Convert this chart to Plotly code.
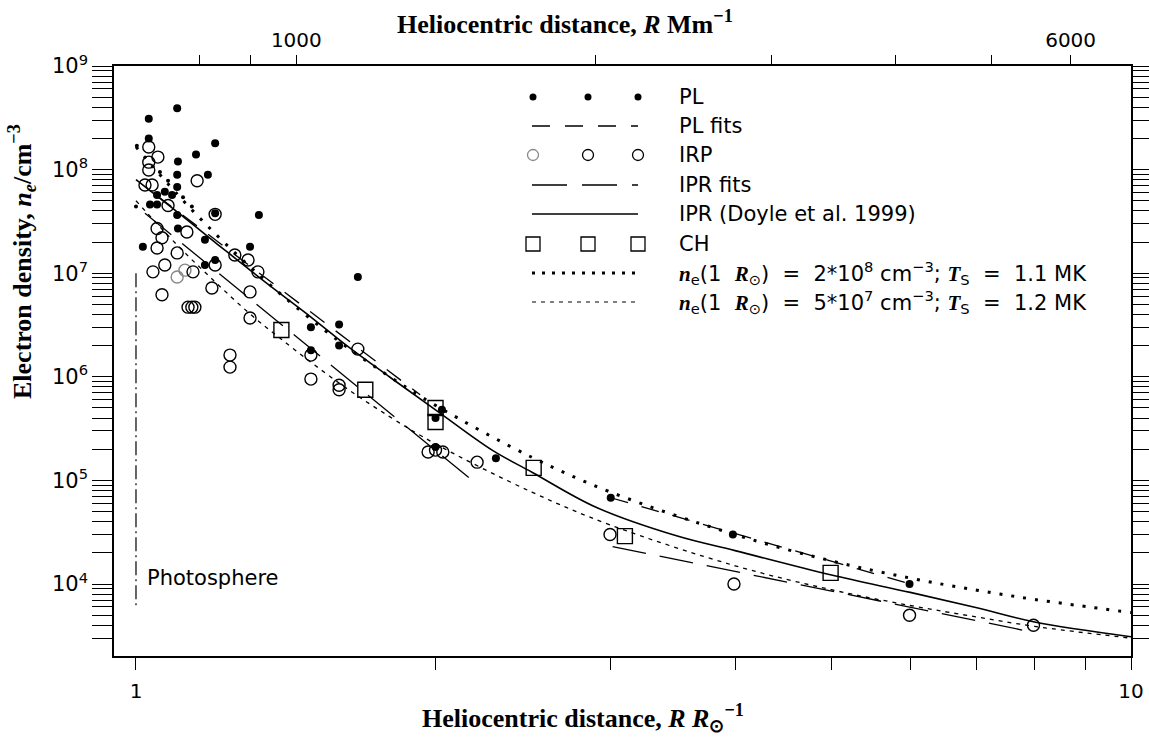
import plotly.graph_objects as go

RSUN_MM = 690.0

# ---------------- data ----------------
# PL : filled dots
pl_r = [1.100, 1.030, 1.030, 1.201, 1.149, 1.102, 1.181, 1.100, 1.100, 1.050, 1.069, 1.087,
        1.033, 1.050, 1.329, 1.016, 1.100, 1.102, 1.173, 1.201, 1.173, 1.302, 1.201, 1.671,
        1.499, 1.600, 1.600, 1.499, 2.00, 2.03, 2.00, 2.30, 3.00, 3.98, 5.99,
        1.002, 1.057, 1.077, 1.115, 1.138, 1.000]
pl_ne = [3.9e8, 3.1e8, 2.0e8, 1.8e8, 1.4e8, 1.2e8, 8.9e7, 8.9e7, 6.8e7, 5.7e7, 6.1e7, 5.7e7,
         4.6e7, 4.6e7, 3.65e7, 1.8e7, 3.65e7, 2.7e7, 2.1e7, 1.34e7, 1.2e7, 1.8e7, 3.8e7, 9.2e6,
         3.0e6, 3.2e6, 2.0e6, 1.8e6, 4.0e5, 4.8e5, 2.1e5, 1.64e5, 6.8e4, 3.0e4, 1.0e4,
         1.7e8, 9.5e7, 7.8e7, 5.4e7, 4.4e7, 4.4e7]
pl_small = [False] * 35 + [True] * 6

# IRP : open circles
irp_r = [1.030, 1.052, 1.030, 1.030, 1.021, 1.038, 1.152, 1.077, 1.201, 1.125, 1.050, 1.062,
         1.050, 1.100, 1.040, 1.069, 1.100, 1.120, 1.141, 1.201, 1.192, 1.062, 1.128, 1.138,
         1.146, 1.257, 1.296, 1.326, 1.302, 1.302, 1.243, 1.243, 1.671, 1.499, 1.499, 1.600,
         1.600, 1.966, 2.000, 2.034, 2.202, 2.995, 3.99, 5.99, 7.98]
irp_ne = [1.65e8, 1.32e8, 1.18e8, 9.9e7, 7.1e7, 7.1e7, 7.8e7, 4.5e7, 3.7e7, 2.5e7, 2.7e7, 2.2e7,
          1.75e7, 1.57e7, 1.03e7, 1.2e7, 9.2e6, 1.07e7, 1.03e7, 1.2e7, 7.2e6, 6.2e6, 4.7e6, 4.7e6,
          4.7e6, 1.5e7, 1.34e7, 1.03e7, 6.6e6, 3.7e6, 1.62e6, 1.24e6, 1.85e6, 1.62e6, 9.5e5, 8.3e5,
          7.5e5, 1.88e5, 1.96e5, 1.88e5, 1.5e5, 3.0e4, 1.0e4, 5.0e3, 4.0e3]
irp_grey = [16, 17]

# CH : open squares
ch_r = [1.40, 1.70, 2.00, 2.00, 2.51, 3.10, 4.99]
ch_ne = [2.83e6, 7.5e5, 5.0e5, 3.66e5, 1.32e5, 2.9e4, 1.28e4]

# IPR (Doyle et al. 1999) solid curve
doyle_r = [1.0, 1.1, 1.2, 1.36, 1.5, 1.64, 1.8, 2.0, 2.28, 2.5, 2.9, 3.5, 4.0, 5.0, 6.0, 7.0, 8.0, 10.0]
doyle_ne = [8.0e7, 3.9e7, 2.0e7, 7.7e6, 3.75e6, 1.9e6, 9.9e5, 4.8e5, 1.96e5, 1.2e5, 5.5e4, 2.9e4,
            2.1e4, 1.22e4, 8.3e3, 5.9e3, 4.3e3, 3.1e3]

# hydrostatic curves
hs_r = [1.0, 1.1, 1.2, 1.3, 1.4, 1.6, 1.8, 2.0, 2.5, 3.0, 4.0, 5.0, 6.0, 7.0, 8.0, 10.0]
hs1_ne = [1.66e8, 5.8e7, 2.43e7, 1.17e7, 6.2e6, 2.2e6, 1.0e6, 5.3e5, 1.67e5, 7.7e4, 3.0e4, 1.67e4,
          1.14e4, 8.7e3, 7.1e3, 5.3e3]
hs2_ne = [5.0e7, 1.87e7, 8.3e6, 4.1e6, 2.3e6, 8.7e5, 4.1e5, 2.25e5, 7.7e4, 3.7e4, 1.5e4, 8.8e3,
          6.2e3, 4.8e3, 3.9e3, 3.0e3]

# PL fits and IPR fits (segments)
plf_segments = [([1.05, 1.93], [5.6e7, 6.7e5]), ([3.0, 6.0], [6.8e4, 1.0e4])]
iprf_segments = [([1.021, 2.207], [3.8e7, 9.0e4]), ([3.013, 8.0], [2.3e4, 3.4e3])]

# photosphere marker line
phot_r = [1.0, 1.0]
phot_ne = [1.0e7, 6.2e3]

# axis ticks
x_ticks = [1, 2, 3, 4, 5, 6, 7, 8, 9, 10]
x_ticktext = ["1", "", "", "", "", "", "", "", "", "10"]
top_mm = [800, 900, 1000, 2000, 3000, 4000, 5000, 6000]
top_text = ["", "", "1000", "", "", "", "", "6000"]
y_ticks = [1e4, 1e5, 1e6, 1e7, 1e8, 1e9]
y_ticktext = ["10<sup>4</sup>", "10<sup>5</sup>", "10<sup>6</sup>", "10<sup>7</sup>",
              "10<sup>8</sup>", "10<sup>9</sup>"]

# ---------------- figure ----------------
fig = go.Figure()
BLK = "black"

fig.add_trace(go.Scatter(x=phot_r, y=phot_ne, mode="lines",
                         line=dict(color=BLK, width=1.2, dash="14px,4px,2px,4px")))
fig.add_trace(go.Scatter(x=hs_r, y=hs1_ne, mode="lines", line_shape="spline",
                         line=dict(color=BLK, width=3, dash="3px,9px")))
fig.add_trace(go.Scatter(x=hs_r, y=hs2_ne, mode="lines", line_shape="spline",
                         line=dict(color=BLK, width=1.3, dash="4px,5px")))
fig.add_trace(go.Scatter(x=doyle_r, y=doyle_ne, mode="lines", line_shape="spline",
                         line=dict(color=BLK, width=1.6)))
for xs, ys in plf_segments:
    fig.add_trace(go.Scatter(x=xs, y=ys, mode="lines",
                             line=dict(color=BLK, width=1.3, dash="18px,14px")))
for xs, ys in iprf_segments:
    fig.add_trace(go.Scatter(x=xs, y=ys, mode="lines",
                             line=dict(color=BLK, width=1.3, dash="34px,14px")))
fig.add_trace(go.Scatter(x=ch_r, y=ch_ne, mode="markers",
                         marker=dict(symbol="square-open", size=15, color=BLK, opacity=1,
                                     line=dict(width=1.4))))
irp_col = ["#888888" if i in irp_grey else BLK for i in range(len(irp_r))]
fig.add_trace(go.Scatter(x=irp_r, y=irp_ne, mode="markers",
                         marker=dict(symbol="circle-open", size=12, color=irp_col, opacity=1,
                                     line=dict(width=1.4))))
fig.add_trace(go.Scatter(x=pl_r, y=pl_ne, mode="markers",
                         marker=dict(symbol="circle", size=[4 if s else 8 for s in pl_small], color=BLK,
                                     opacity=1, line=dict(width=0))))
fig.add_trace(go.Scatter(x=[1, 10], y=[1e5, 1e5], xaxis="x2", mode="lines",
                         line=dict(width=0), hoverinfo="skip"))

# ---------------- legend (drawn on a pixel overlay) ----------------
rows = [97, 126, 155, 185, 214, 244, 273, 302]
sx = [533, 588, 638]
lx0, lx1 = 532, 638
leg_traces = [
    dict(x=sx, y=[rows[0]] * 3, mode="markers", marker=dict(symbol="circle", size=7, color=BLK, opacity=1)),
    dict(x=[lx0, lx1], y=[rows[1]] * 2, mode="lines", line=dict(color=BLK, width=1.3, dash="18px,15px")),
    dict(x=sx, y=[rows[2]] * 3, mode="markers",
         marker=dict(symbol="circle-open", size=11, color=["#888888", BLK, BLK], opacity=1,
                     line=dict(width=1.3))),
    dict(x=[lx0, lx1], y=[rows[3]] * 2, mode="lines", line=dict(color=BLK, width=1.3, dash="35px,15px")),
    dict(x=[lx0, lx1], y=[rows[4]] * 2, mode="lines", line=dict(color=BLK, width=1.4)),
    dict(x=sx, y=[rows[5]] * 3, mode="markers",
         marker=dict(symbol="square-open", size=14, color=BLK, opacity=1, line=dict(width=1.3))),
    dict(x=[lx0, lx1], y=[rows[6]] * 2, mode="lines", line=dict(color=BLK, width=3, dash="3px,7px")),
    dict(x=[lx0, lx1], y=[rows[7]] * 2, mode="lines", line=dict(color=BLK, width=1.2, dash="4px,5px")),
]
for t in leg_traces:
    fig.add_trace(go.Scatter(xaxis="x3", yaxis="y3", hoverinfo="skip", **t))

SANS = "DejaVu Sans"
SERIF = "Liberation Serif"
NB = "\u00a0"
def mi(s):
    return f'<span style="font-family:{SERIF}"><b><i>{s}</i></b></span>'

sp2 = NB * 2
formula1 = (f"{mi('n')}<sub>e</sub>(1{sp2}{mi('R')}<sub>⊙</sub>){sp2}={sp2}2*10<sup>8</sup>{NB}cm<sup>−3</sup>;"
            f"{NB}{mi('T')}<sub>S</sub>{sp2}={sp2}1.1{NB}MK")
formula2 = (f"{mi('n')}<sub>e</sub>(1{sp2}{mi('R')}<sub>⊙</sub>){sp2}={sp2}5*10<sup>7</sup>{NB}cm<sup>−3</sup>;"
            f"{NB}{mi('T')}<sub>S</sub>{sp2}={sp2}1.2{NB}MK")
labels = ["PL", "PL fits", "IRP", "IPR fits", "IPR (Doyle et al. 1999)", "CH", formula1, formula2]

annotations = []
for lab, yy in zip(labels, rows):
    annotations.append(dict(x=677, y=yy, xref="x3", yref="y3", text=lab, showarrow=False,
                            xanchor="left", yanchor="middle", font=dict(family=SANS, size=21, color=BLK)))
annotations.append(dict(x=145, y=578, xref="x3", yref="y3", text="Photosphere", showarrow=False,
                        xanchor="left", yanchor="middle", font=dict(family=SANS, size=21, color=BLK)))

PLOT_L, PLOT_R, PLOT_T, PLOT_B = 114, 1131, 66, 656
def px(xp):
    return (xp - PLOT_L) / (PLOT_R - PLOT_L)
def py(yp):
    return (PLOT_B - yp) / (PLOT_B - PLOT_T)

TFONT = dict(family=SERIF, size=26, color=BLK)
annotations.append(dict(x=px(565), y=py(22), xref="paper", yref="paper", showarrow=False,
                        text="<b>Heliocentric distance, <i>R</i> Mm<sup>−1</sup></b>", font=TFONT,
                        xanchor="center", yanchor="middle"))
annotations.append(dict(x=px(583), y=py(718), xref="paper", yref="paper", showarrow=False,
                        text="<b>Heliocentric distance, <i>R R</i><sub>⊙</sub><sup>−1</sup></b>", font=TFONT,
                        xanchor="center", yanchor="middle"))
annotations.append(dict(x=px(22), y=py(262), xref="paper", yref="paper", showarrow=False, textangle=-90,
                        text="<b>Electron density, <i>n<sub>e</sub></i>/cm<sup>−3</sup></b>", font=TFONT,
                        xanchor="center", yanchor="middle"))

minor_y = [m * 10 ** e for e in range(3, 9) for m in range(2, 10)]
xr = [-0.0221, 1.0]

fig.update_layout(
    width=1149, height=742,
    margin=dict(l=PLOT_L, r=1149 - PLOT_R, t=PLOT_T, b=742 - PLOT_B, autoexpand=False),
    paper_bgcolor="white", plot_bgcolor="white",
    showlegend=False,
    xaxis=dict(type="log", range=xr, tickvals=x_ticks, ticktext=x_ticktext, automargin=False,
               ticks="outside", ticklen=12, tickwidth=1.3, tickcolor=BLK,
               showline=True, linecolor=BLK, linewidth=1.5, mirror=True,
               showgrid=False, zeroline=False, ticklabelstandoff=4,
               tickfont=dict(family=SANS, size=20, color=BLK)),
    xaxis2=dict(type="log", range=xr, overlaying="x", side="top", anchor="y", automargin=False,
                tickvals=[m / RSUN_MM for m in top_mm], ticktext=top_text,
                ticks="outside", ticklen=10, tickwidth=1.3, tickcolor=BLK,
                showline=False, showgrid=False, zeroline=False,
                tickfont=dict(family=SANS, size=20, color=BLK)),
    yaxis=dict(type="log", range=[3.305, 9.0], tickvals=y_ticks, ticktext=y_ticktext, automargin=False,
               ticks="outside", ticklen=20, tickwidth=1.3, tickcolor=BLK,
               minor=dict(tickvals=minor_y, ticks="outside", ticklen=10, tickwidth=1.1, tickcolor=BLK),
               showline=True, linecolor=BLK, linewidth=1.5, mirror="allticks",
               showgrid=False, zeroline=False,
               tickfont=dict(family=SANS, size=21, color=BLK)),
    xaxis3=dict(overlaying="x", range=[PLOT_L, PLOT_R], visible=False, anchor="y3"),
    yaxis3=dict(overlaying="y", range=[PLOT_B, PLOT_T], visible=False, anchor="x3"),
    annotations=annotations,
)

fig.write_html("out.html")
